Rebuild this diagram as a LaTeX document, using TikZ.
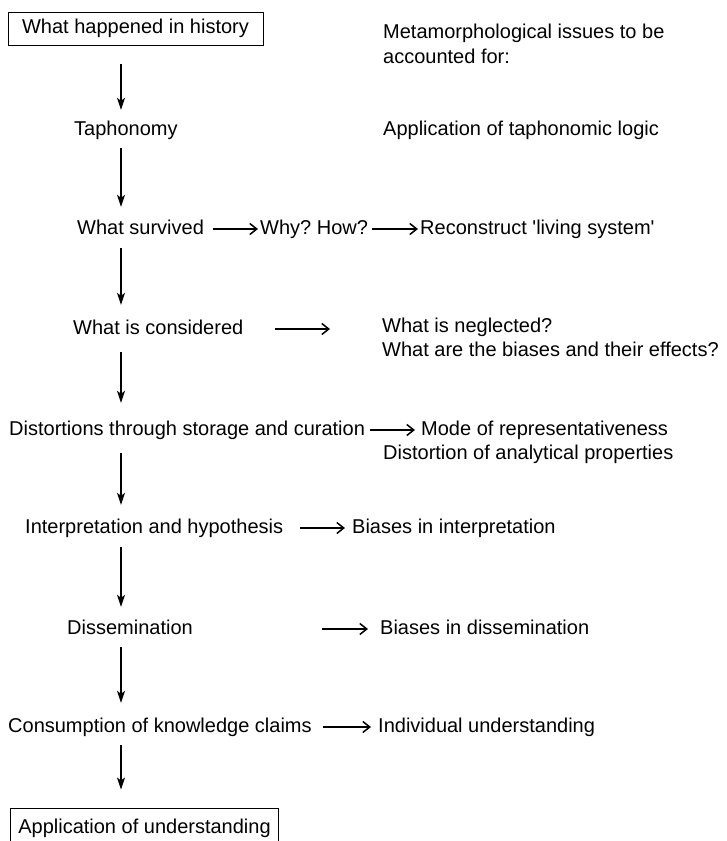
\documentclass[tikz,border=0pt]{standalone}
\usepackage{fontspec}
\setmainfont{Liberation Sans}
\usetikzlibrary{arrows.meta}
\begin{document}
\frenchspacing
\begin{tikzpicture}[x=1pt,y=-1pt,
  every node/.style={inner sep=0pt, text height=15pt, text depth=5pt, font=\fontsize{20}{24}\selectfont},
  lbl/.style={anchor=base west},
  boxed/.style={draw, line width=1pt, inner xsep=8pt, minimum height=33pt},
  flow/.style={line width=1.3pt, -{Stealth[length=12pt,width=8pt,inset=3pt]}},
  side/.style={line width=1.4pt, -{Straight Barb[length=7pt,width=11pt,line width=1.5pt]}}]
\useasboundingbox (0,0) rectangle (727,841);
\coordinate (ax) at (121,0);
% left column
\node[boxed, minimum width=255pt] (hist) at (135.5,28.5) {What happened in history};
\node[lbl] (taph) at (74,135) {Taphonomy};
\node[lbl] (surv) at (77,234) {What survived};
\node[lbl] (cons) at (73,334) {What is considered};
\node[lbl] (dist) at (9,435) {Distortions through storage and curation};
\node[lbl] (interp) at (25,533) {Interpretation and hypothesis};
\node[lbl] (diss) at (67,634) {Dissemination};
\node[lbl] (consum) at (8,732) {Consumption of knowledge claims};
\node[boxed, minimum width=255pt, minimum height=40pt] (appl) at (144.5,828) {Application of understanding};
% right column
\node[lbl] (meta1) at (383,38) {Metamorphological issues to be};
\node[lbl] (meta2) at (383,63) {accounted for:};
\node[lbl] (tlogic) at (383,135) {Application of taphonomic logic};
\node[lbl] (why) at (260,234) {Why? How?};
\node[lbl] (recon) at (420,234) {Reconstruct \textquotesingle living system\textquotesingle};
\node[lbl] (negl) at (382,332) {What is neglected?};
\node[lbl] (bias) at (382,356) {What are the biases and their effects?};
\node[lbl] (mode) at (421,435) {Mode of representativeness};
\node[lbl] (anal) at (383,459) {Distortion of analytical properties};
\node[lbl] (binterp) at (352,533) {Biases in interpretation};
\node[lbl] (bdiss) at (380,634) {Biases in dissemination};
\node[lbl] (indiv) at (378,732) {Individual understanding};
% vertical arrows
\draw[flow, shorten <=18pt, shorten >=10pt] (hist.south -| ax) -- (taph.north -| ax);
\draw[flow, shorten <=8pt, shorten >=12pt] (taph.south -| ax) -- (surv.north -| ax);
\draw[flow, shorten <=9pt, shorten >=14pt] (surv.south -| ax) -- (cons.north -| ax);
\draw[flow, shorten <=13pt, shorten >=17pt] (cons.south -| ax) -- (dist.north -| ax);
\draw[flow, shorten <=13pt, shorten >=13pt] (dist.south -| ax) -- (interp.north -| ax);
\draw[flow, shorten <=9pt, shorten >=12pt] (interp.south -| ax) -- (diss.north -| ax);
\draw[flow, shorten <=8pt, shorten >=14pt] (diss.south -| ax) -- (consum.north -| ax);
\draw[flow, shorten <=8pt, shorten >=18pt] (consum.south -| ax) -- (appl.north -| ax);
% horizontal arrows
\coordinate (c1) at (213,0); \coordinate (c2) at (258,0);
\draw[side] (surv.east -| c1) -- (why.west -| c2);
\coordinate (c3) at (372,0); \coordinate (c4) at (418,0);
\draw[side] (why.east -| c3) -- (recon.west -| c4);
\coordinate (c5) at (275,0); \coordinate (c6) at (330,0);
\draw[side] (cons.east -| c5) -- (cons.east -| c6);
\coordinate (c7) at (370,0); \coordinate (c8) at (415,0);
\draw[side] (dist.east -| c7) -- (mode.west -| c8);
\coordinate (c9) at (300,0); \coordinate (c10) at (345,0);
\draw[side] (interp.east -| c9) -- (binterp.west -| c10);
\coordinate (c11) at (322,0); \coordinate (c12) at (368,0);
\draw[side] (diss.east -| c11) -- (bdiss.west -| c12);
\coordinate (c13) at (323,0); \coordinate (c14) at (371,0);
\draw[side] (consum.east -| c13) -- (indiv.west -| c14);
\end{tikzpicture}
\end{document}
